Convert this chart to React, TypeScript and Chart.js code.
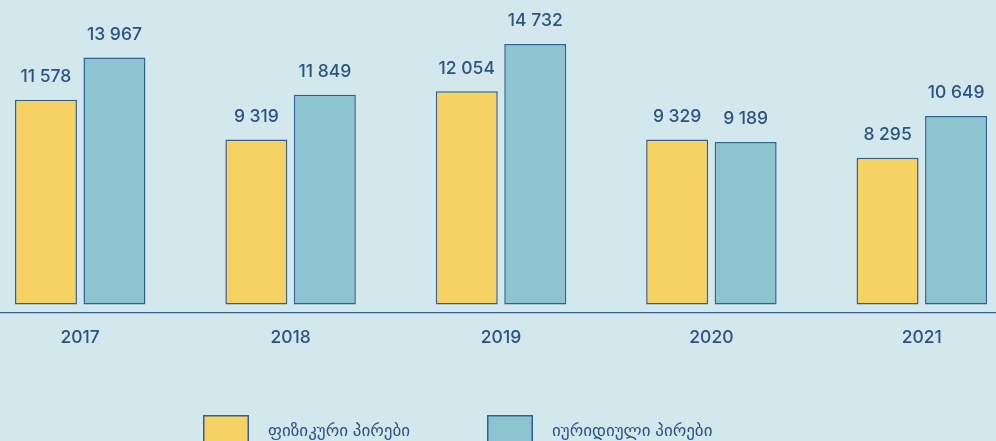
import React, { useEffect, useRef } from "react";
import { Chart, registerables } from "chart.js";

Chart.register(...registerables);

const categories = ["2017", "2018", "2019", "2020", "2021"];
const physicalPersons = [11578, 9319, 12054, 9329, 8295];
const legalPersons = [13967, 11849, 14732, 9189, 10649];
const seriesNames = ["ფიზიკური პირები", "იურიდიული პირები"];

const BG = "#d2e8ec";
const YELLOW = "#f6d264";
const TEAL = "#8cc4d0";
const BORDER = "#33608c";
const TEXT = "#2d5380";
const FONT = 'Inter, "DejaVu Sans", sans-serif';

const fmt = (v: number) => String(v).replace(/\B(?=(\d{3})+(?!\d))/g, " ");

const valueLabels = {
  id: "valueLabels",
  afterDatasetsDraw(chart: any) {
    const ctx = chart.ctx;
    ctx.save();
    ctx.fillStyle = TEXT;
    ctx.font = `500 17.5px ${FONT}`;
    ctx.textAlign = "center";
    ctx.textBaseline = "middle";
    chart.data.datasets.forEach((ds: any, i: number) => {
      const meta = chart.getDatasetMeta(i);
      meta.data.forEach((bar: any, j: number) => {
        ctx.fillText(fmt(ds.data[j]), bar.x, bar.y - 23);
      });
    });
    ctx.restore();
  },
};

const customLegend = {
  id: "customLegend",
  afterDraw(chart: any) {
    const ctx = chart.ctx;
    const starts = [228, 512];
    const boxW = 46;
    const boxH = 30;
    const top = 415;
    ctx.save();
    ctx.font = `400 17px ${FONT}`;
    ctx.textBaseline = "middle";
    ctx.textAlign = "left";
    chart.data.datasets.forEach((ds: any, i: number) => {
      const x = starts[i];
      ctx.fillStyle = ds.backgroundColor;
      ctx.fillRect(x, top, boxW, boxH);
      ctx.strokeStyle = ds.borderColor;
      ctx.lineWidth = 1.5;
      ctx.strokeRect(x + 0.75, top + 0.75, boxW - 1.5, boxH - 1.5);
      ctx.fillStyle = TEXT;
      ctx.fillText(ds.label, x + boxW + 19, top + 16);
    });
    ctx.restore();
  },
};

export default function App() {
  const ref = useRef<HTMLCanvasElement | null>(null);
  useEffect(() => {
    if (!ref.current) return;
    const chart = new Chart(ref.current, {
      type: "bar",
      data: {
        labels: categories,
        datasets: [
          {
            label: seriesNames[0],
            data: physicalPersons,
            backgroundColor: YELLOW,
            borderColor: BORDER,
            borderWidth: 1.5,
            borderSkipped: false,
          },
          {
            label: seriesNames[1],
            data: legalPersons,
            backgroundColor: TEAL,
            borderColor: BORDER,
            borderWidth: 1.5,
            borderSkipped: false,
          },
        ],
      },
      options: {
        responsive: false,
        animation: false,
        devicePixelRatio: 1,
        categoryPercentage: 0.651,
        barPercentage: 0.905,
        layout: { padding: { top: 0, left: 0, right: 0, bottom: 77.6 } },
        plugins: {
          legend: { display: false },
          tooltip: { enabled: false },
        },
        scales: {
          x: {
            grid: { display: false, drawTicks: false },
            border: { display: true, color: BORDER, width: 1.2 },
            ticks: {
              color: TEXT,
              padding: 15,
              font: { family: FONT, size: 17.5, weight: "500" as any, lineHeight: 1.2 },
            },
          },
          y: {
            display: false,
            min: -453,
            max: 17214,
          },
        },
      },
      plugins: [valueLabels, customLegend],
    });
    return () => chart.destroy();
  }, []);

  return (
    <div
      style={{
        position: "fixed",
        left: 0,
        top: 0,
        width: 996,
        height: 441,
        overflow: "hidden",
        background: BG,
      }}
    >
      <canvas
        ref={ref}
        width={1052}
        height={441}
        style={{ position: "absolute", left: -25, top: 0, width: 1052, height: 441 }}
      />
    </div>
  );
}
